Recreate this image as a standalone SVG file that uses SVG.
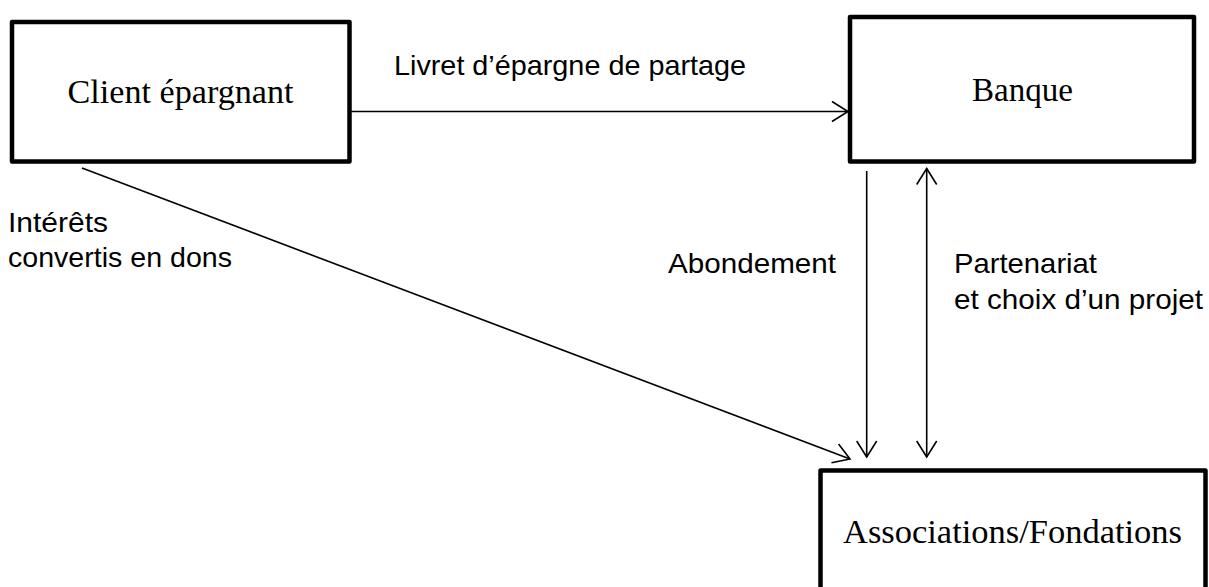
<svg xmlns="http://www.w3.org/2000/svg" width="1209" height="587" viewBox="0 0 1209 587">
  <defs>
    <style>
      .box { fill: #ffffff; stroke: #000000; stroke-width: 4.5; stroke-linejoin: round; }
      .serif { font-family: "Liberation Serif", "Times New Roman", serif; font-size: 33px; fill: #000000; }
      .sans { font-family: "Liberation Sans", Arial, sans-serif; font-size: 28.5px; fill: #000000; }
      .conn { fill: none; stroke: #000000; stroke-width: 1.6; }
    </style>
    <marker id="arrow" viewBox="-18 -12 20 24" refX="0" refY="0" markerWidth="20" markerHeight="24" markerUnits="userSpaceOnUse" orient="auto-start-reverse">
      <path d="M -16 -10 L 0 0 L -16 10" fill="none" stroke="#000000" stroke-width="1.6" stroke-linejoin="miter"/>
    </marker>
  </defs>
  <rect width="1209" height="587" fill="#ffffff"/>

  <g id="connectors">
    <line class="conn" x1="351" y1="111.5" x2="848" y2="111.5" marker-end="url(#arrow)"/>
    <line class="conn" x1="82" y1="168" x2="850" y2="459" marker-end="url(#arrow)"/>
    <line class="conn" x1="866.7" y1="171" x2="866.7" y2="457" marker-end="url(#arrow)"/>
    <line class="conn" x1="926.7" y1="168.5" x2="926.7" y2="457" marker-start="url(#arrow)" marker-end="url(#arrow)"/>
  </g>

  <g id="labels">
    <text class="sans" x="394" y="75" textLength="352" lengthAdjust="spacingAndGlyphs">Livret d’épargne de partage</text>
    <text class="sans" x="8" y="232" textLength="100" lengthAdjust="spacingAndGlyphs">Intérêts</text>
    <text class="sans" x="8" y="267" textLength="224" lengthAdjust="spacingAndGlyphs">convertis en dons</text>
    <text class="sans" x="668" y="273" textLength="168" lengthAdjust="spacingAndGlyphs">Abondement</text>
    <text class="sans" x="954" y="273" textLength="143" lengthAdjust="spacingAndGlyphs">Partenariat</text>
    <text class="sans" x="954" y="309" textLength="249" lengthAdjust="spacingAndGlyphs">et choix d’un projet</text>
  </g>

  <g id="node-client">
    <rect class="box" x="12" y="22" width="337.5" height="139.5"/>
    <text class="serif" x="180.5" y="103" text-anchor="middle" textLength="226" lengthAdjust="spacingAndGlyphs">Client épargnant</text>
  </g>

  <g id="node-banque">
    <rect class="box" x="850" y="17" width="344" height="144.5"/>
    <text class="serif" x="1022.5" y="101" text-anchor="middle" textLength="101" lengthAdjust="spacingAndGlyphs">Banque</text>
  </g>

  <g id="node-associations">
    <rect class="box" x="820.5" y="470.5" width="385" height="200"/>
    <text class="serif" x="1012.5" y="543" text-anchor="middle" textLength="339" lengthAdjust="spacingAndGlyphs">Associations/Fondations</text>
  </g>
</svg>
